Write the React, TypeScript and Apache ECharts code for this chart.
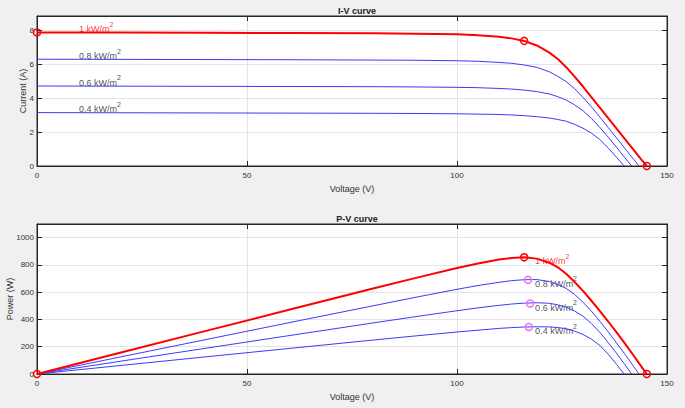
import React, { useEffect, useRef } from "react";
import * as echarts from "echarts";

// ---- data ----
const irradianceLabels = ["1 kW/m", "0.8 kW/m", "0.6 kW/m", "0.4 kW/m"];

const vRed = [0, 20, 40, 60, 80, 90, 100, 105, 110, 113, 116, 119, 122, 124, 126, 128, 130, 132, 134, 136, 138, 140, 142, 144, 145.2];
const iRed = [7.88, 7.87, 7.86, 7.85, 7.83, 7.81, 7.77, 7.72, 7.63, 7.53, 7.38, 7.11, 6.69, 6.31, 5.83, 5.27, 4.69, 4.07, 3.45, 2.83, 2.21, 1.59, 0.97, 0.35, 0];

const v08 = [0, 20, 40, 60, 80, 90, 100, 105, 110, 113, 116, 119, 122, 124, 126, 128, 130, 132, 134, 136, 138, 140, 142, 143.35];
const i08 = [6.3, 6.29, 6.28, 6.27, 6.25, 6.24, 6.21, 6.18, 6.11, 6.06, 5.96, 5.82, 5.56, 5.29, 4.98, 4.56, 4.05, 3.49, 2.89, 2.27, 1.65, 1.03, 0.41, 0];

const v06 = [0, 20, 40, 60, 80, 90, 100, 105, 110, 113, 116, 119, 122, 124, 126, 128, 130, 132, 134, 136, 138, 140, 141.6];
const i06 = [4.72, 4.71, 4.7, 4.69, 4.68, 4.665, 4.64, 4.62, 4.575, 4.54, 4.48, 4.39, 4.25, 4.09, 3.89, 3.61, 3.26, 2.81, 2.28, 1.7, 1.1, 0.48, 0];

const v04 = [0, 20, 40, 60, 80, 90, 100, 105, 110, 113, 116, 119, 122, 124, 126, 128, 130, 132, 134, 136, 138, 139.8];
const i04 = [3.15, 3.14, 3.13, 3.12, 3.11, 3.1, 3.08, 3.06, 3.04, 3.01, 2.97, 2.91, 2.83, 2.745, 2.64, 2.46, 2.23, 1.94, 1.56, 1.07, 0.51, 0];

// markers
const ivRedMarkers = [[0, 7.88], [116, 7.38], [145.2, 0]];
const pvRedMarkers = [[0, 0], [116, 856], [145.2, 0]];
const pvMagentaMarkers = [[116.9, 690], [117.4, 517], [117.1, 345]];

// label anchor positions
const ivLabelX = [10, 10, 10, 10];
const ivLabelY = [8.2, 6.6, 5.04, 3.46];
const pvLabelX = [118.6, 118.6, 118.6, 118.6];
const pvLabelY = [840, 675, 500, 330];

const xTicks = { min: 0, max: 150, interval: 50 };

const pairs = (v: number[], i: number[]) => v.map((x, k) => [x, i[k]]);
const power = (v: number[], i: number[]) => v.map((x, k) => [x, +(x * i[k]).toFixed(1)]);

const FONT = "'Liberation Sans', Arial, Helvetica, sans-serif";
const AXIS = "#262626";
const TXT = "#333333";
const GRIDC = "#e4e4e4";
const BLUE = "#3a3aff";

export default function App() {
  const ref = useRef<HTMLDivElement>(null);
  useEffect(() => {
    if (!ref.current) return;
    const chart = echarts.init(ref.current, undefined, { renderer: "svg" });

    const rich = {
      r: { fontSize: 9, color: "#ff0000", fontFamily: FONT, lineHeight: 13, verticalAlign: "bottom" },
      rs: { fontSize: 7, color: "#ff0000", fontFamily: FONT, lineHeight: 13, verticalAlign: "top" },
      k: { fontSize: 9, color: "#222222", fontFamily: FONT, lineHeight: 13, verticalAlign: "bottom" },
      ks: { fontSize: 7, color: "#222222", fontFamily: FONT, lineHeight: 13, verticalAlign: "top" },
    };
    const labelData = (xs: number[], ys: number[]) =>
      xs.map((x, k) => ({
        value: [x, ys[k]],
        label: {
          formatter: k === 0 ? `{r|${irradianceLabels[k]}}{rs|2}` : `{k|${irradianceLabels[k]}}{ks|2}`,
        },
      }));

    const mainX = (gridIndex: number) => ({
      gridIndex,
      type: "value",
      ...xTicks,
      axisLine: { show: true, onZero: false, lineStyle: { color: AXIS, width: 1 } },
      axisTick: { show: true, inside: true, length: 5, lineStyle: { color: AXIS } },
      axisLabel: { fontSize: 8, color: TXT, margin: 5, fontFamily: FONT, formatter: (v: number) => String(v) },
      splitLine: { show: true, lineStyle: { color: GRIDC, width: 1 } },
      name: "Voltage (V)",
      nameLocation: "middle",
      nameGap: 18,
      nameMoveOverlap: false,
      nameTextStyle: { fontSize: 9, color: TXT, fontFamily: FONT },
    });
    const topX = (gridIndex: number) => ({
      gridIndex,
      type: "value",
      position: "top",
      ...xTicks,
      axisLine: { show: true, onZero: false, lineStyle: { color: AXIS, width: 1 } },
      axisTick: { show: true, inside: true, length: 5, lineStyle: { color: AXIS } },
      axisLabel: { show: false },
      splitLine: { show: false },
    });
    const leftY = (gridIndex: number, max: number, interval: number, name: string, nameGap: number) => ({
      gridIndex,
      type: "value",
      min: 0,
      max,
      interval,
      axisLine: { show: true, onZero: false, lineStyle: { color: AXIS, width: 1 } },
      axisTick: { show: true, inside: true, length: 5, lineStyle: { color: AXIS } },
      axisLabel: { fontSize: 8, color: TXT, margin: 3, showMaxLabel: false, fontFamily: FONT, formatter: (v: number) => String(v) },
      splitLine: { show: true, lineStyle: { color: GRIDC, width: 1 } },
      name,
      nameLocation: "middle",
      nameGap,
      nameMoveOverlap: false,
      nameTextStyle: { fontSize: 9, color: TXT, fontFamily: FONT },
    });
    const rightY = (gridIndex: number, max: number, interval: number) => ({
      gridIndex,
      type: "value",
      position: "right",
      min: 0,
      max,
      interval,
      axisLine: { show: true, onZero: false, lineStyle: { color: AXIS, width: 1 } },
      axisTick: { show: true, inside: true, length: 5, lineStyle: { color: AXIS } },
      axisLabel: { show: false },
      splitLine: { show: false },
    });

    const line = (data: number[][], xi: number, yi: number, color: string, width: number, z: number) => ({
      type: "line",
      xAxisIndex: xi,
      yAxisIndex: yi,
      data,
      showSymbol: false,
      symbol: "none",
      lineStyle: { color, width },
      z,
      silent: true,
    });
    const markers = (data: number[][], xi: number, yi: number, color: string) => ({
      type: "scatter",
      xAxisIndex: xi,
      yAxisIndex: yi,
      data,
      symbol: "circle",
      symbolSize: 7,
      itemStyle: { color: "rgba(0,0,0,0)", borderColor: color, borderWidth: 1.5, opacity: 1 },
      z: 10,
      silent: true,
    });
    const labels = (xs: number[], ys: number[], xi: number, yi: number) => ({
      type: "scatter",
      xAxisIndex: xi,
      yAxisIndex: yi,
      symbolSize: 0,
      data: labelData(xs, ys),
      label: { show: true, position: "right", distance: 0, rich },
      z: 5,
      silent: true,
    });

    chart.setOption({
      animation: false,
      backgroundColor: "#f0f0f0",
      textStyle: { fontFamily: FONT },
      title: [
        { text: "I-V curve", left: 352, top: 1, textAlign: "center", textStyle: { fontSize: 9, fontWeight: "bold", color: "#222", fontFamily: FONT } },
        { text: "P-V curve", left: 352, top: 209, textAlign: "center", textStyle: { fontSize: 9, fontWeight: "bold", color: "#222", fontFamily: FONT } },
      ],
      grid: [
        { left: 37, right: 18, top: 16, height: 150, show: true, backgroundColor: "#ffffff", borderColor: AXIS, borderWidth: 1, containLabel: false, outerBoundsMode: "none" },
        { left: 37, right: 18, top: 224, height: 150, show: true, backgroundColor: "#ffffff", borderColor: AXIS, borderWidth: 1, containLabel: false, outerBoundsMode: "none" },
      ],
      xAxis: [mainX(0), topX(0), mainX(1), topX(1)],
      yAxis: [
        leftY(0, 8.85, 2, "Current (A)", 10),
        rightY(0, 8.85, 2),
        leftY(1, 1100, 200, "Power (W)", 23),
        rightY(1, 1100, 200),
      ],
      series: [
        labels(ivLabelX, ivLabelY, 0, 0),
        line(pairs(v04, i04), 0, 0, BLUE, 1, 2),
        line(pairs(v06, i06), 0, 0, BLUE, 1, 2),
        line(pairs(v08, i08), 0, 0, BLUE, 1, 2),
        line(pairs(vRed, iRed), 0, 0, "#ff0000", 2, 3),
        markers(ivRedMarkers, 0, 0, "#ff0000"),
        labels(pvLabelX, pvLabelY, 2, 2),
        line(power(v04, i04), 2, 2, BLUE, 1, 6),
        line(power(v06, i06), 2, 2, BLUE, 1, 6),
        line(power(v08, i08), 2, 2, BLUE, 1, 6),
        line(power(vRed, iRed), 2, 2, "#ff0000", 2, 7),
        markers(pvMagentaMarkers, 2, 2, "#f070f0"),
        markers(pvRedMarkers, 2, 2, "#ff0000"),
      ],
    });
    return () => chart.dispose();
  }, []);
  return <div ref={ref} style={{ position: "fixed", left: 0, top: 0, width: 685, height: 408 }} />;
}
